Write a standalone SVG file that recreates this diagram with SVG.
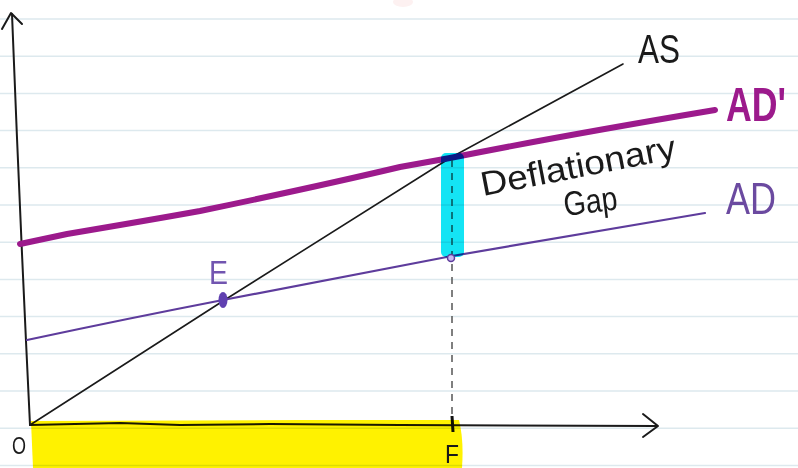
<svg xmlns="http://www.w3.org/2000/svg" width="798" height="468" viewBox="0 0 798 468">
<style>
.rule{stroke:#dde9ee;stroke-width:1.5}
.ink{fill:none;stroke:#1a1a1a;stroke-linecap:round;stroke-linejoin:round}
.hand{font-family:"Liberation Sans",Arial,sans-serif}
.hl{mix-blend-mode:multiply}
</style>
<rect width="798" height="468" fill="#ffffff"/>
<g id="paper-lines">
<line class="rule" x1="0" y1="19" x2="798" y2="19"/>
<line class="rule" x1="0" y1="56.2" x2="798" y2="56.2"/>
<line class="rule" x1="0" y1="93.4" x2="798" y2="93.4"/>
<line class="rule" x1="0" y1="130.6" x2="798" y2="130.6"/>
<line class="rule" x1="0" y1="167.8" x2="798" y2="167.8"/>
<line class="rule" x1="0" y1="205" x2="798" y2="205"/>
<line class="rule" x1="0" y1="242.2" x2="798" y2="242.2"/>
<line class="rule" x1="0" y1="279.4" x2="798" y2="279.4"/>
<line class="rule" x1="0" y1="316.6" x2="798" y2="316.6"/>
<line class="rule" x1="0" y1="353.8" x2="798" y2="353.8"/>
<line class="rule" x1="0" y1="391" x2="798" y2="391"/>
<line class="rule" x1="0" y1="428.2" x2="798" y2="428.2"/>
<line class="rule" x1="0" y1="465.4" x2="798" y2="465.4"/>
</g>
<ellipse cx="403" cy="2" rx="10" ry="5" fill="#fdf1f1"/>
<g id="axes">
<path class="ink" stroke-width="2" d="M12,14 Q20,220 30,425"/>
<path class="ink" stroke-width="2" d="M2,29 L11,13 L22,24"/>
<path class="ink" stroke-width="2" d="M30,425 L120,423 L180,425 L270,424 L400,425 L657,426"/>
<path class="ink" stroke-width="2" d="M643,414 L658,426 L643,437"/>
<line x1="452" y1="416" x2="453" y2="432" stroke="#111" stroke-width="3"/>
</g>
<g id="connectors">
<path id="AS-curve" class="ink" stroke-width="1.6" d="M30,425 L223,301 L450,158 L623,64"/>
<path id="AD-curve" fill="none" stroke="#5e3c9c" stroke-width="2.2" stroke-linecap="round" d="M27,340 Q130,318 223,300 T452,256 L705,213"/>
<path id="AD2-curve" fill="none" stroke="#9c1a8c" stroke-width="6" stroke-linecap="round" d="M20,244 L67,234 Q150,220 200,211 Q320,186 400,167 L450,158 Q560,136 715,110"/>
<line id="dash" x1="452" y1="160" x2="452" y2="418" stroke="#555" stroke-width="1.5" stroke-dasharray="7 6"/>
</g>
<g id="highlights">
<path class="hl" fill="#fff200" d="M31,421 L300,420 L459,420 Q464,440 462,468 L33,468 Z"/>
<rect class="hl" x="441" y="153" width="23" height="104" rx="5" fill="#14e4f4"/>
</g>
<g id="point-E">
<ellipse cx="223" cy="300" rx="4.5" ry="8" fill="#6040b0"/>
<text class="hand" x="209" y="284" font-size="34" fill="#7155b0" textLength="19" lengthAdjust="spacingAndGlyphs">E</text>
</g>
<g id="point-gap">
<circle cx="451" cy="258" r="3.5" fill="#c9b8f0" stroke="#5e3c9c" stroke-width="1.5"/>
</g>
<g id="labels">
<text class="hand" x="638" y="63" font-size="40" fill="#1a1a1a" textLength="42" lengthAdjust="spacingAndGlyphs">AS</text>
<text class="hand" x="726" y="121" font-size="48" font-weight="bold" fill="#9c1a8c" textLength="60" lengthAdjust="spacingAndGlyphs">AD'</text>
<text class="hand" x="726" y="214" font-size="44" fill="#6b4aa0" textLength="50" lengthAdjust="spacingAndGlyphs">AD</text>
<text class="hand" x="483" y="196" font-size="34" fill="#1a1a1a" transform="rotate(-11 483 196)" textLength="198" lengthAdjust="spacingAndGlyphs">Deflationary</text>
<text class="hand" x="565" y="216" font-size="34" fill="#1a1a1a" transform="rotate(-7 565 216)" textLength="54" lengthAdjust="spacingAndGlyphs">Gap</text>
<text class="hand" x="12" y="454" font-size="24" fill="#1a1a1a" textLength="14" lengthAdjust="spacingAndGlyphs">O</text>
<text class="hand" x="445" y="463" font-size="26" fill="#1a1a1a" textLength="14" lengthAdjust="spacingAndGlyphs">F</text>
</g>
</svg>
